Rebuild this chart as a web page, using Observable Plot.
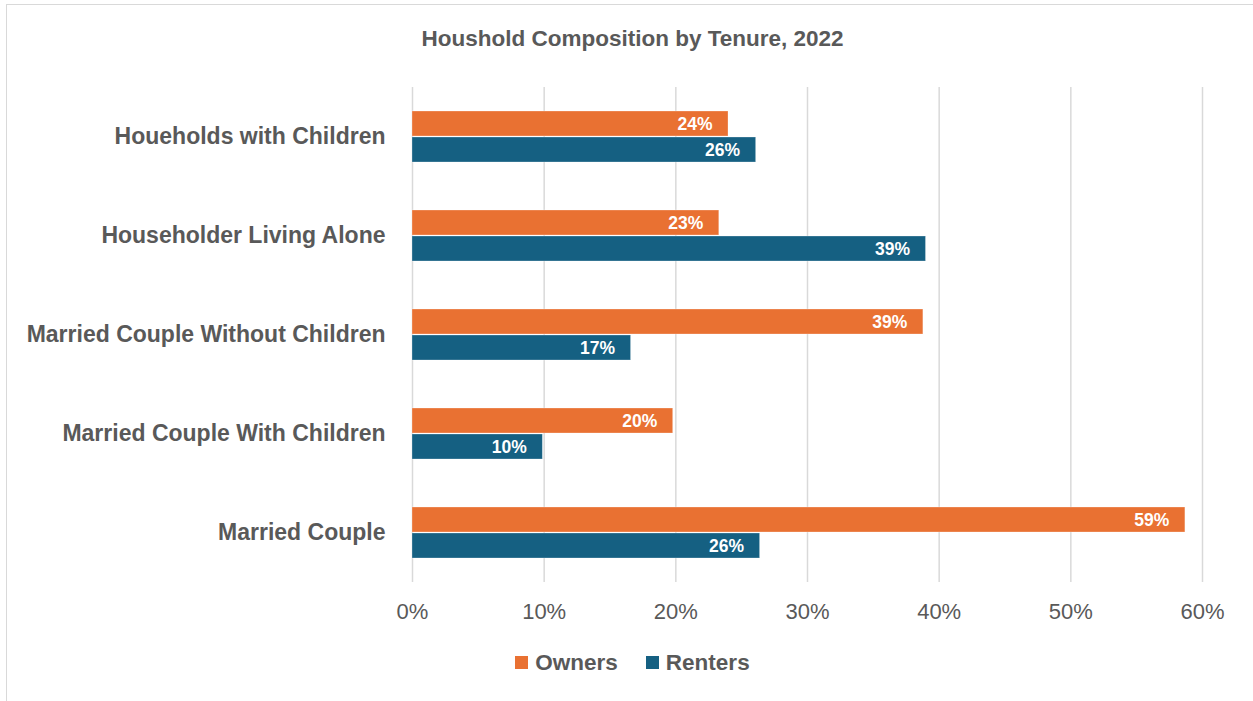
<!DOCTYPE html>
<html>
<head>
<meta charset="utf-8">
<script src="https://cdn.jsdelivr.net/npm/d3@7"></script>
<script src="https://cdn.jsdelivr.net/npm/@observablehq/plot@0.6"></script>
<style>
  html, body { margin: 0; padding: 0; background: #fff; }
  body { width: 1253px; height: 701px; position: relative; overflow: hidden; font-family: "Liberation Sans", Arial, sans-serif; }
  #frame { position: absolute; left: 6px; top: 4px; width: 1260px; height: 710px; border: 1px solid #d9d9d9; box-sizing: border-box; }
  #title { position: absolute; left: 6px; width: 1253px; top: 26px; text-align: center; font-size: 22.5px; font-weight: bold; color: #595959; }
  #chart { position: absolute; left: 0; top: 0; }
  #legend { position: absolute; top: 650px; left: 0; width: 1265px; text-align: center; font-size: 22.5px; font-weight: bold; color: #595959; }
  #legend span.item { display: inline-block; margin: 0 14px; }
  #legend span.sw { display: inline-block; width: 13px; height: 13px; margin-right: 7px; vertical-align: 1px; }
</style>
</head>
<body>
<div id="frame"></div>
<div id="title">Houshold Composition by Tenure, 2022</div>
<div id="chart"></div>
<div id="legend"></div>
<script>
const categories = [
  "Houeholds with Children",
  "Householder Living Alone",
  "Married Couple Without Children",
  "Married Couple With Children",
  "Married Couple"
];
const seriesNames = ["Owners", "Renters"];
const owners  = [0.240, 0.233, 0.388, 0.198, 0.587];
const renters = [0.261, 0.390, 0.166, 0.099, 0.264];
const xTicks = [0, 0.1, 0.2, 0.3, 0.4, 0.5, 0.6];
const colors = ["#E97132", "#156082"];

const data = [];
categories.forEach((c, i) => {
  data.push({category: c, series: "Owners", value: owners[i]});
  data.push({category: c, series: "Renters", value: renters[i]});
});

const pct = d3.format(".0%");
const gray = "#595959";

const chart = Plot.plot({
  width: 1253,
  height: 630,
  marginLeft: 412,
  marginRight: 51,
  marginTop: 87,
  marginBottom: 48,
  style: {fontFamily: "'Liberation Sans', Arial, sans-serif", background: "transparent"},
  x: {domain: [0, 0.6], ticks: xTicks},
  fy: {domain: categories, padding: 0},
  y: {domain: seriesNames, paddingInner: 0.02, paddingOuter: 0.9, axis: null},
  color: {domain: seriesNames, range: colors},
  marks: [
    Plot.gridX({ticks: xTicks, stroke: "#d9d9d9", strokeOpacity: 1, strokeWidth: 1.5}),
    Plot.barX(data, {x: "value", y: "series", fy: "category", fill: "series", stroke: "white", strokeOpacity: 0.35, strokeWidth: 0.8}),
    Plot.text(data, {x: "value", y: "series", fy: "category", text: d => pct(d.value), textAnchor: "end", dx: -16, fill: "white", fontWeight: "bold", fontSize: 17.5}),
    Plot.axisX({ticks: xTicks, tickFormat: pct, tickSize: 0, tickPadding: 21, fontSize: 22, color: gray, label: null}),
    Plot.axisFy({anchor: "left", tickSize: 0, tickPadding: 27, fontSize: 23, fontWeight: "bold", color: gray, label: null})
  ]
});
document.getElementById("chart").appendChild(chart);

const legend = document.getElementById("legend");
seriesNames.forEach((s, i) => {
  const item = document.createElement("span");
  item.className = "item";
  const sw = document.createElement("span");
  sw.className = "sw";
  sw.style.background = colors[i];
  item.appendChild(sw);
  item.appendChild(document.createTextNode(s));
  legend.appendChild(item);
});
</script>
</body>
</html>
